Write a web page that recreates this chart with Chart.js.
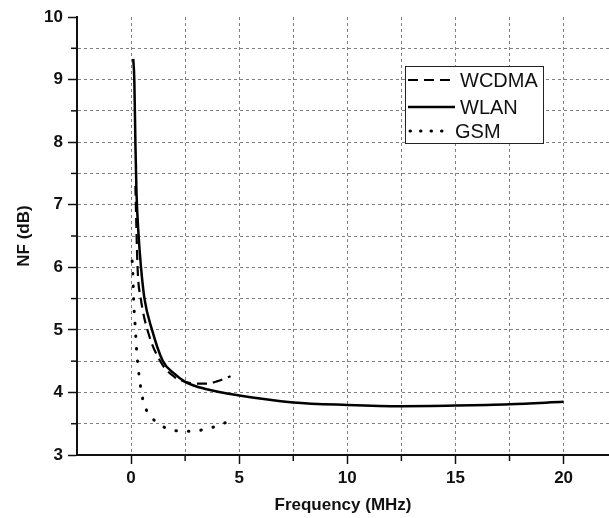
<!DOCTYPE html>
<html><head><meta charset="utf-8">
<script src="https://cdn.jsdelivr.net/npm/chart.js@4/dist/chart.umd.min.js"></script>
<style>html,body{margin:0;padding:0;background:#fff}canvas{display:block}</style>
</head><body>
<canvas id="c" width="609" height="518"></canvas>
<script>
// ---- data ----
const seriesNames = ['WCDMA', 'WLAN', 'GSM'];
const wcdmaX = [0.2, 0.3, 0.45, 0.8, 1.4, 2.0, 2.5, 3.0, 3.5, 4.0, 4.6];
const wcdmaY = [7.3, 6.0, 5.5, 4.95, 4.47, 4.25, 4.17, 4.14, 4.14, 4.18, 4.26];
const wlanX = [0.1, 0.15, 0.2, 0.25, 0.35, 0.46, 0.62, 0.97, 1.47, 2.0, 2.5, 3.5, 5, 7.5, 10, 12.5, 15, 17.5, 20];
const wlanY = [9.33, 9.0, 8.0, 7.2, 6.5, 6.0, 5.5, 5.0, 4.5, 4.3, 4.17, 4.05, 3.95, 3.84, 3.80, 3.78, 3.79, 3.81, 3.85];
const gsmX = [0.05, 0.08, 0.12, 0.19, 0.26, 0.37, 0.57, 0.82, 1.31, 1.9, 2.5, 3.09, 3.66, 4.24, 4.83];
const gsmY = [6.1, 5.91, 5.47, 5.06, 4.66, 4.27, 3.85, 3.66, 3.49, 3.40, 3.38, 3.39, 3.43, 3.50, 3.58];
const xTickValues = [-2.5, 0, 2.5, 5, 7.5, 10, 12.5, 15, 17.5, 20];
const xTickLabels = [0, 5, 10, 15, 20];
const yTickLabels = [3, 4, 5, 6, 7, 8, 9, 10];
const xTitle = 'Frequency (MHz)';
const yTitle = 'NF (dB)';

const toPts = (xs, ys) => xs.map((x, i) => ({x, y: ys[i]}));
const FONT = '"Liberation Sans", Arial, sans-serif';

const styles = [
  {borderDash: [10, 6], borderWidth: 2.2, borderCapStyle: 'butt'},
  {borderDash: [], borderWidth: 2.5, borderCapStyle: 'butt'},
  {borderDash: [0.5, 12], borderWidth: 3, borderCapStyle: 'round'}
];
const dataSets = [toPts(wcdmaX, wcdmaY), toPts(wlanX, wlanY), toPts(gsmX, gsmY)];

const isMult = (v, s) => Math.abs(v / s - Math.round(v / s)) < 1e-6;

const minorTicks = {
  id: 'minorTicks',
  afterDraw(chart) {
    const ctx = chart.ctx;
    ctx.save();
    ctx.strokeStyle = '#111';
    ctx.lineWidth = 1.5;
    const xs = chart.scales.x, ys = chart.scales.y;
    const area = chart.chartArea;
    xs.ticks.forEach(t => {
      if (!isMult(t.value, 5) && t.value > xs.min) {
        const px = xs.getPixelForValue(t.value);
        ctx.beginPath(); ctx.moveTo(px, area.bottom); ctx.lineTo(px, area.bottom + 6); ctx.stroke();
      }
    });
    ys.ticks.forEach(t => {
      if (!isMult(t.value, 1)) {
        const py = ys.getPixelForValue(t.value);
        ctx.beginPath(); ctx.moveTo(area.left, py); ctx.lineTo(area.left - 6, py); ctx.stroke();
      }
    });
    ctx.restore();
  }
};

const boxLegend = {
  id: 'boxLegend',
  afterDraw(chart) {
    const ctx = chart.ctx;
    const bx = 405, by = 66, bw = 138, bh = 77;
    ctx.save();
    ctx.fillStyle = '#fff';
    ctx.fillRect(bx, by, bw, bh);
    ctx.strokeStyle = '#222';
    ctx.lineWidth = 1;
    ctx.strokeRect(bx + 0.5, by + 0.5, bw, bh);
    const rows = [80, 107, 131];
    chart.data.datasets.forEach((ds, i) => {
      const y = rows[i];
      ctx.beginPath();
      ctx.setLineDash(i === 2 ? [0.5, 10] : ds.borderDash);
      ctx.lineCap = ds.borderCapStyle;
      ctx.lineWidth = ds.borderWidth;
      ctx.strokeStyle = '#000';
      const x0 = i === 2 ? 410 : 408, x1 = i === 2 ? 450 : 455;
      ctx.moveTo(x0, y); ctx.lineTo(x1, y); ctx.stroke();
      ctx.setLineDash([]);
      ctx.fillStyle = '#111';
      ctx.font = '20px ' + FONT;
      ctx.textBaseline = 'middle';
      ctx.textAlign = 'left';
      ctx.fillText(ds.label, i === 2 ? 455 : 460, y + 1);
    });
    ctx.restore();
  }
};

new Chart(document.getElementById('c'), {
  type: 'scatter',
  data: {
    datasets: dataSets.map((d, i) => ({
      label: seriesNames[i],
      data: d,
      showLine: true,
      fill: false,
      pointRadius: 0,
      borderColor: '#000',
      cubicInterpolationMode: 'monotone',
      ...styles[i]
    }))
  },
  options: {
    responsive: false,
    devicePixelRatio: 1,
    animation: false,
    layout: {padding: {top: 17, right: 0, left: 0, bottom: 0}},
    plugins: {legend: {display: false}, tooltip: {enabled: false}},
    scales: {
      x: {
        type: 'linear',
        min: -2.5, max: 22.1,
        afterBuildTicks: s => { s.ticks = xTickValues.map(v => ({value: v})); },
        afterFit: s => { s.height = 63; },
        border: {display: true, color: '#111', width: 2, dash: [3, 3]},
        grid: {
          color: c => (c.tick && c.tick.value > -2.4) ? '#808080' : 'rgba(0,0,0,0)',
          lineWidth: 1,
          drawTicks: true,
          tickLength: 9,
          tickBorderDash: [],
          tickWidth: 1.5,
          tickColor: c => (c.tick && isMult(c.tick.value, 5) && c.tick.value >= 0) ? '#111' : 'rgba(0,0,0,0)'
        },
        ticks: {
          autoSkip: false,
          maxRotation: 0,
          padding: 4,
          color: '#111',
          font: {family: FONT, size: 17, weight: 'bold'},
          callback: v => xTickLabels.includes(v) ? String(v) : ''
        },
        title: {
          display: true, text: xTitle, color: '#111',
          font: {family: FONT, size: 17, weight: 'bold'},
          padding: {top: 4, bottom: 2}
        }
      },
      y: {
        type: 'linear',
        min: 3, max: 10,
        afterFit: s => { s.width = 77; },
        border: {display: true, color: '#111', width: 2, dash: [3, 3]},
        grid: {
          color: c => (c.tick && c.tick.value > 3.1 && c.tick.value < 9.9) ? '#808080' : 'rgba(0,0,0,0)',
          lineWidth: 1,
          drawTicks: true,
          tickLength: 9,
          tickBorderDash: [],
          tickWidth: 1.5,
          tickColor: c => (c.tick && isMult(c.tick.value, 1)) ? '#111' : 'rgba(0,0,0,0)'
        },
        ticks: {
          stepSize: 0.5,
          autoSkip: false,
          padding: 5,
          color: '#111',
          font: {family: FONT, size: 17, weight: 'bold'},
          callback: v => yTickLabels.includes(v) ? String(v) : ''
        },
        title: {
          display: true, text: yTitle, color: '#111',
          font: {family: FONT, size: 17, weight: 'bold'},
          padding: {top: 14, bottom: 4}
        }
      }
    }
  },
  plugins: [minorTicks, boxLegend]
});
</script>
</body></html>
